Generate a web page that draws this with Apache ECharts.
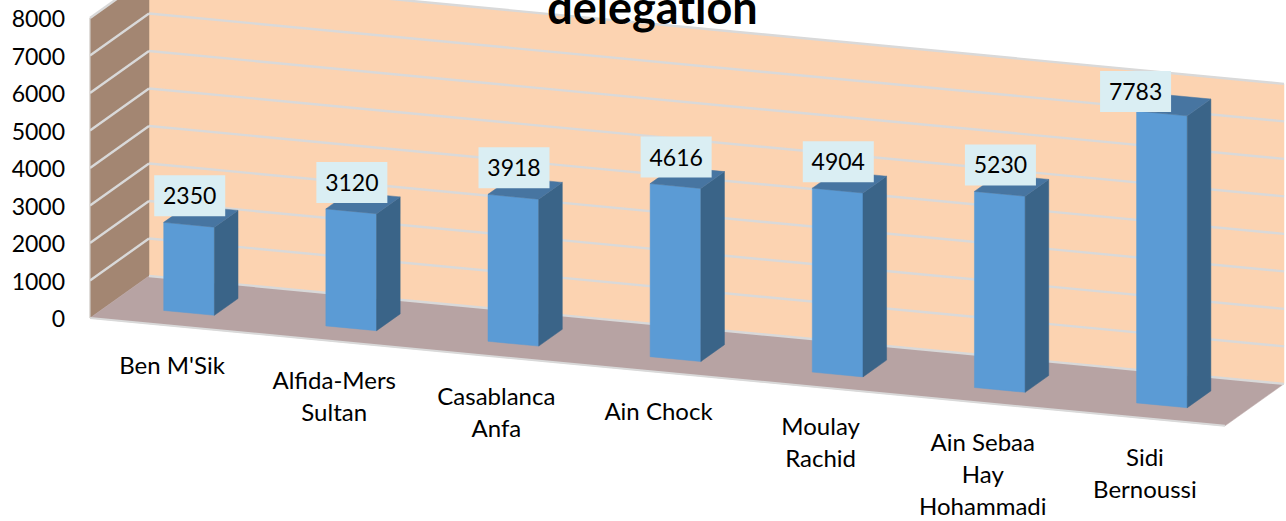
<!DOCTYPE html>
<html><head><meta charset="utf-8">
<style>html,body{margin:0;padding:0;background:#fff}#c{width:1286px;height:521px}
#c text{font-variant-ligatures:none}</style>
<script src="https://cdn.jsdelivr.net/npm/echarts@6/dist/echarts.min.js"></script>
</head><body><div id="c"></div>
<script>
const categories = ["Ben M'Sik", "Alfida-Mers\nSultan", "Casablanca\nAnfa", "Ain Chock", "Moulay\nRachid", "Ain Sebaa\nHay\nHohammadi", "Sidi\nBernoussi"];
const values = [2350, 3120, 3918, 4616, 4904, 5230, 7783];
const yTicks = [0, 1000, 2000, 3000, 4000, 5000, 6000, 7000, 8000];
const titleText = "delegation";

const FONT = 'Lato';
const SLOPE = 0.095, DX = 59, DY = 42;           // oblique projection of the 3D box
const BAR_W = 0.3127, Z0 = 0.305, Z1 = 0.705;    // bar footprint
const C = {wall:'#FCD3B1', side:'#A38672', floor:'#B7A3A3', grid:'#D9D9D9', front:'#5B9BD5', right:'#3A6488', top:'#4775A1', box:'#DAEEF3'};

function projector(api){
  const band = api.size([1,0])[0];
  const left = api.coord([0,0])[0] - band/2;
  return function(i, f, v, z){
    const c = api.coord([i, v]);
    const bx = c[0] + f*band;
    return [bx + z*DX, c[1] + (bx-left)*SLOPE - z*DY];
  };
}
const poly = (points, fill, extra) => Object.assign({type:'polygon', shape:{points}, style:{fill, stroke:fill, lineWidth:0.5}, silent:true}, extra||{});
const line = (a, b, w) => ({type:'line', shape:{x1:a[0],y1:a[1],x2:b[0],y2:b[1]}, style:{stroke:C.grid, lineWidth:w||2.4}, silent:true});

function renderBox(params, api){
  const P = projector(api);
  const n = categories.length, L = 0, R = n-1, lo = -0.5, hi = 0.5;
  const top = yTicks[yTicks.length-1];
  const kids = [
    poly([P(L,lo,0,1),P(R,hi,0,1),P(R,hi,top,1),P(L,lo,top,1)], C.wall),
    poly([P(L,lo,0,0),P(L,lo,0,1),P(L,lo,top,1),P(L,lo,top,0)], C.side),
    poly([P(L,lo,0,0),P(R,hi,0,0),P(R,hi,0,1),P(L,lo,0,1)], C.floor)
  ];
  yTicks.forEach(t=>{
    if(t>0){
      kids.push(line(P(L,lo,t,0),P(L,lo,t,1)));
    }
    kids.push(line(P(L,lo,t,1),P(R,hi,t,1)));
  });
  kids.push(line(P(L,lo,0,0),P(R,hi,0,0),2));
  kids.push(line(P(L,lo,0,0),P(L,lo,top,0),1));
  return {type:'group', children:kids};
}

function renderBar(params, api){
  const P = projector(api);
  const i = api.value(0), v = api.value(1);
  const a = -BAR_W/2, b = BAR_W/2;
  return {type:'group', children:[
    poly([P(i,a,0,Z0),P(i,b,0,Z0),P(i,b,v,Z0),P(i,a,v,Z0)], C.front),
    poly([P(i,b,0,Z0),P(i,b,0,Z1),P(i,b,v,Z1),P(i,b,v,Z0)], C.right),
    poly([P(i,a,v,Z0),P(i,b,v,Z0),P(i,b,v,Z1),P(i,a,v,Z1)], C.top)
  ]};
}

function renderLabel(params, api){
  const P = projector(api);
  const i = api.value(0), v = api.value(1);
  const p = P(i,-BAR_W/2,v,Z0);
  const moved = v === Math.max.apply(null, values);   // the tallest label was nudged in the original
  const cx = p[0] + 26 + (moved ? -27 : 0);
  const cy = p[1] - 26.5 + (moved ? 7 : 0);
  return {type:'group', children:[
    {type:'rect', shape:{x:cx-35.5,y:cy-20.5,width:71,height:41}, style:{fill:C.box}, silent:true},
    {type:'text', style:{text:String(v), x:cx, y:cy-0.5, align:'center', verticalAlign:'middle', font:'23px '+FONT, fill:'#000'}, silent:true}
  ]};
}

function renderCat(params, api){
  const P = projector(api);
  const i = api.value(0);
  const p = P(i,0,0,0);
  return {type:'text', style:{text:categories[i], x:p[0]+1, y:p[1]+22.5, align:'center', verticalAlign:'top', font:'24px '+FONT, lineHeight:32, fill:'#000'}, silent:true};
}

const barData = values.map((v,i)=>[i,v]);
const chart = echarts.init(document.getElementById('c'), null, {renderer:'svg'});
chart.setOption({
  animation:false,
  backgroundColor:'#fff',
  title:{text:titleText, left:647.5, top:-21, textAlign:'center', textStyle:{fontFamily:FONT, fontWeight:'bold', fontSize:45, color:'#000'}, z:20},
  grid:{left:90, top:18, width:1135, height:300},
  xAxis:{type:'category', data:categories, axisLine:{show:false}, axisTick:{show:false}, axisLabel:{show:false}, splitLine:{show:false}},
  yAxis:{type:'value', min:0, max:8000, interval:1000, axisLine:{show:false}, axisTick:{show:false}, splitLine:{show:false},
    axisLabel:{margin:25, fontFamily:FONT, fontSize:23, color:'#000', padding:[12,0,0,0], formatter:(v)=>String(v)}},
  series:[
    {type:'custom', name:'box', data:[[0,0]], renderItem:renderBox, z:1, clip:false, silent:true},
    {type:'custom', name:'bars', data:barData, encode:{x:0,y:1}, renderItem:renderBar, z:2, clip:false, silent:true},
    {type:'custom', name:'labels', data:barData, encode:{x:0,y:1}, renderItem:renderLabel, z:3, clip:false, silent:true},
    {type:'custom', name:'categories', data:barData, encode:{x:0,y:1}, renderItem:renderCat, z:3, clip:false, silent:true}
  ]
});
</script></body></html>
